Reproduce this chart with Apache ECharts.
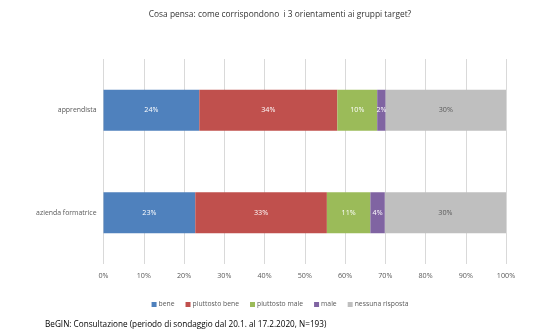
<!DOCTYPE html>
<html><head><meta charset="utf-8">
<script src="https://cdn.jsdelivr.net/npm/echarts@6/dist/echarts.min.js"></script>
<style>html,body{margin:0;padding:0;background:#fff}#c{width:560px;height:336px}</style>
</head><body><div id="c"></div>
<script>
const categories = ['azienda formatrice', 'apprendista'];
const seriesNames = ['bene', 'piuttosto bene', 'piuttosto male', 'male', 'nessuna risposta'];
const bene = [22.8, 23.8];
const piuttostoBene = [32.7, 34.3];
const piuttostoMale = [10.8, 9.9];
const male = [3.6, 2.1];
const nessunaRisposta = [30.1, 29.9];
const labelTexts = [['23%', '24%'], ['33%', '34%'], ['11%', '10%'], ['4%', '2%'], ['30%', '30%']];
const colors = ['#4f81bd', '#c0504d', '#9bbb59', '#8064a2', '#bfbfbf'];
const labelColors = ['#fff', '#fff', '#fff', '#fff', '#595959'];
const values = [bene, piuttostoBene, piuttostoMale, male, nessunaRisposta];
const font = 'Open Sans, Liberation Sans, sans-serif';

const chart = echarts.init(document.getElementById('c'));
chart.setOption({
  animation: false,
  title: {
    text: 'Cosa pensa: come corrispondono  i 3 orientamenti ai gruppi target?',
    left: 'center', top: 6,
    textStyle: {fontSize: 8.4, fontWeight: 'normal', color: '#333', fontFamily: font}
  },
  grid: {left: 103.5, right: 54, top: 59, bottom: 72, containLabel: false},
  legend: {
    bottom: 23, left: 'center', itemWidth: 5, itemHeight: 5, itemGap: 11,
    icon: 'rect',
    textStyle: {fontSize: 6.8, color: '#595959', fontFamily: font, padding: [0, 0, 0, -3]},
    data: seriesNames
  },
  xAxis: {
    type: 'value', min: 0, max: 100, interval: 10,
    axisLabel: {formatter: '{value}%', fontSize: 7.2, color: '#595959', fontFamily: font, margin: 8},
    splitLine: {lineStyle: {color: '#d9d9d9', width: 1}},
    axisLine: {show: false}, axisTick: {show: false}
  },
  yAxis: {
    type: 'category', data: categories,
    axisLabel: {fontSize: 6.9, color: '#595959', fontFamily: font, margin: 7},
    axisLine: {show: false}, axisTick: {show: false}
  },
  series: seriesNames.map((n, i) => ({
    name: n, type: 'bar', stack: 'all', barWidth: 41,
    data: values[i],
    itemStyle: {color: colors[i]},
    label: {
      show: true, position: 'inside', fontSize: 7.2, color: labelColors[i], fontFamily: font,
      formatter: p => labelTexts[i][p.dataIndex]
    }
  })),
  graphic: [{
    type: 'text', left: 45, top: 321,
    style: {text: 'BeGIN: Consultazione (periodo di sondaggio dal 20.1. al 17.2.2020, N=193)', fontSize: 8.2, fill: '#000', fontFamily: font}
  }]
});
</script></body></html>
